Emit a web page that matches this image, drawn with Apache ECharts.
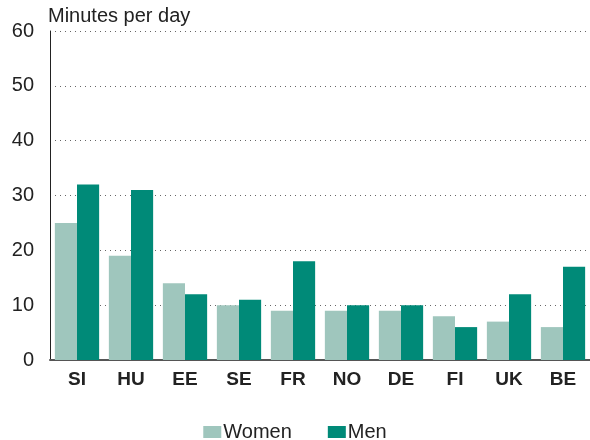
<!DOCTYPE html>
<html>
<head>
<meta charset="utf-8">
<script src="https://cdn.jsdelivr.net/npm/echarts@6/dist/echarts.min.js"></script>
<style>
  html, body { margin: 0; padding: 0; background: #fff; }
  #chart { width: 590px; height: 440px; }
</style>
</head>
<body>
<div id="chart"></div>
<script>
  var countries = ['SI', 'HU', 'EE', 'SE', 'FR', 'NO', 'DE', 'FI', 'UK', 'BE'];
  var women = [25, 19, 14, 10, 9, 9, 9, 8, 7, 6];
  var men = [32, 31, 12, 11, 18, 10, 10, 6, 12, 17];

  var chart = echarts.init(document.getElementById('chart'));
  chart.setOption({
    animation: false,
    textStyle: { fontFamily: 'Liberation Sans, Arial, sans-serif' },
    grid: { left: 50, right: 0, top: 31, bottom: 80 },
    legend: {
      top: 417,
      left: 'center',
      itemWidth: 18,
      itemHeight: 12,
      itemGap: 36,
      icon: 'rect',
      textStyle: { fontSize: 20, color: '#222', padding: [0, 0, 0, -3] },
      data: ['Women', 'Men']
    },
    xAxis: {
      type: 'category',
      data: countries,
      axisLine: { lineStyle: { color: '#555', width: 2 } },
      axisTick: { show: false },
      axisLabel: { fontSize: 19, fontWeight: 'bold', color: '#222', margin: 10 }
    },
    yAxis: {
      type: 'value',
      min: 0,
      max: 60,
      interval: 10,
      name: 'Minutes per day',
      nameLocation: 'end',
      nameGap: 5,
      nameTextStyle: { fontSize: 20, color: '#222', align: 'left', padding: [0, 0, 0, -2] },
      axisLine: { show: true, lineStyle: { color: '#222', width: 1 } },
      axisTick: { show: false },
      axisLabel: { fontSize: 20, color: '#222', margin: 16 },
      splitLine: { lineStyle: { type: [1, 4], color: '#666' } }
    },
    series: [
      {
        name: 'Women',
        type: 'bar',
        data: women,
        barGap: '0%',
        barCategoryGap: '18%',
        itemStyle: { color: '#9fc6bd' }
      },
      {
        name: 'Men',
        type: 'bar',
        data: men,
        itemStyle: { color: '#008a78' }
      }
    ]
  });
</script>
</body>
</html>
